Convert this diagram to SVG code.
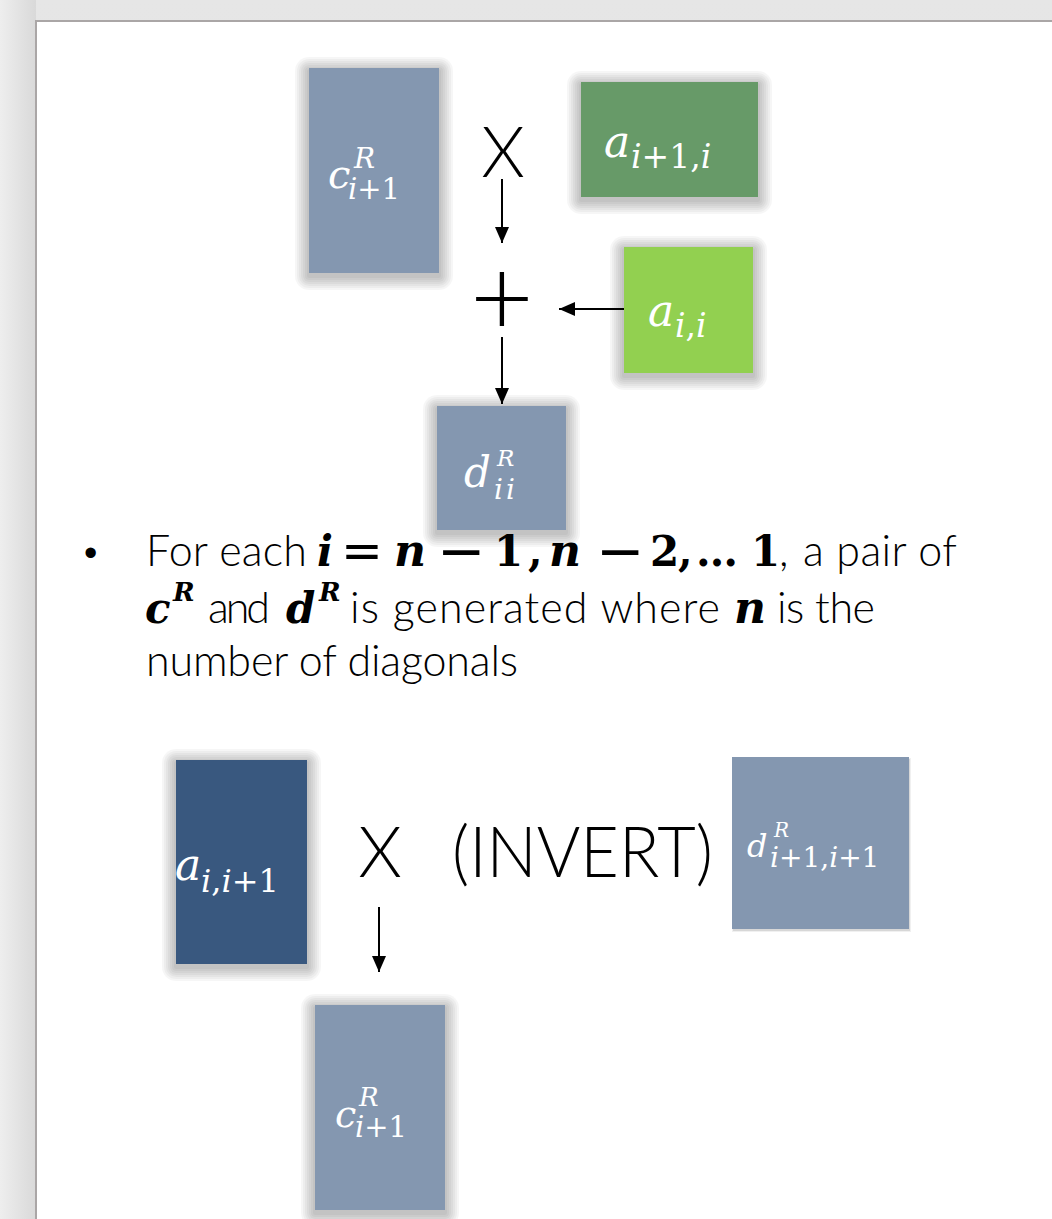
<svg xmlns="http://www.w3.org/2000/svg" width="1052" height="1219" viewBox="0 0 1052 1219">
<defs>
<linearGradient id="leftbg" x1="0" y1="0" x2="1" y2="0">
<stop offset="0" stop-color="#eeeeee"/>
<stop offset="1" stop-color="#d9d9d9"/>
</linearGradient>
<linearGradient id="topbg" x1="0" y1="0" x2="0" y2="1">
<stop offset="0" stop-color="#e6e6e6"/>
<stop offset="1" stop-color="#dadada"/>
</linearGradient>
<marker id="ah" markerUnits="userSpaceOnUse" markerWidth="16" markerHeight="14" refX="16" refY="7" orient="auto">
<path d="M0,0 L16,7 L0,14 z" fill="#000"/>
</marker>
</defs>
<style>
.slate{fill:#8497b0}
.shd rect{fill:#000;fill-opacity:0.035}
.m{font-family:"DejaVu Serif",serif;fill:#fff}
.it{font-style:italic}
.up{font-style:normal}
.op{font-family:Lato,"Liberation Sans",sans-serif;font-weight:300;fill:#000}
.body{font-family:Lato,"Liberation Sans",sans-serif;font-weight:300;font-size:43px;fill:#000}
.bm{font-family:"DejaVu Serif",serif;font-size:42px;fill:#000;font-weight:bold}
.bi{font-style:italic}
.sym{font-family:"DejaVu Sans",sans-serif;fill:#000}
.conn line{stroke:#000;stroke-width:2;marker-end:url(#ah)}
</style>

<!-- frame -->
<rect x="0" y="0" width="1052" height="1219" fill="url(#topbg)"/>
<rect x="0" y="0" width="36" height="1219" fill="url(#leftbg)"/>
<rect x="36" y="21" width="1030" height="1220" fill="#ffffff" stroke="#aaa6a6" stroke-width="2"/>

<!-- top section -->
<g id="c-top">
<g class="shd"><rect x="307" y="69" width="134" height="209" rx="2"/><rect x="305" y="67" width="138" height="213" rx="4"/><rect x="303" y="65" width="142" height="217" rx="6"/><rect x="301" y="63" width="146" height="221" rx="8"/><rect x="299" y="61" width="150" height="225" rx="10"/><rect x="297" y="59" width="154" height="229" rx="12"/><rect x="295" y="57" width="158" height="233" rx="14"/></g>
<rect class="slate" x="309" y="68" width="130" height="205"/>
<text class="m" font-size="40"><tspan class="it" x="328" y="188">c</tspan><tspan class="it" x="354" y="168" font-size="28">R</tspan><tspan class="it" x="348" y="199" font-size="29">i</tspan><tspan class="up" font-size="29">+1</tspan></text>
</g>

<g id="a-i1-i">
<g class="shd"><rect x="579" y="83" width="181" height="119" rx="2"/><rect x="577" y="81" width="185" height="123" rx="4"/><rect x="575" y="79" width="189" height="127" rx="6"/><rect x="573" y="77" width="193" height="131" rx="8"/><rect x="571" y="75" width="197" height="135" rx="10"/><rect x="569" y="73" width="201" height="139" rx="12"/><rect x="567" y="71" width="205" height="143" rx="14"/></g>
<rect x="581" y="82" width="177" height="115" fill="#679a68"/>
<text class="m" font-size="44"><tspan class="it" x="604" y="157">a</tspan><tspan class="it" x="631" y="168" font-size="33">i</tspan><tspan class="up" font-size="33">+1,</tspan><tspan class="it" font-size="33">i</tspan></text>
</g>

<g id="a-ii">
<g class="shd"><rect x="622" y="248" width="133" height="130" rx="2"/><rect x="620" y="246" width="137" height="134" rx="4"/><rect x="618" y="244" width="141" height="138" rx="6"/><rect x="616" y="242" width="145" height="142" rx="8"/><rect x="614" y="240" width="149" height="146" rx="10"/><rect x="612" y="238" width="153" height="150" rx="12"/><rect x="610" y="236" width="157" height="154" rx="14"/></g>
<rect x="624" y="247" width="129" height="126" fill="#92d050"/>
<text class="m" font-size="44"><tspan class="it" x="648" y="326">a</tspan><tspan class="it" x="675" y="337" font-size="33">i</tspan><tspan class="up" font-size="33">,</tspan><tspan class="it" font-size="33">i</tspan></text>
</g>

<g id="d-ii">
<g class="shd"><rect x="435" y="407" width="133" height="128" rx="2"/><rect x="433" y="405" width="137" height="132" rx="4"/><rect x="431" y="403" width="141" height="136" rx="6"/><rect x="429" y="401" width="145" height="140" rx="8"/><rect x="427" y="399" width="149" height="144" rx="10"/><rect x="425" y="397" width="153" height="148" rx="12"/><rect x="423" y="395" width="157" height="152" rx="14"/></g>
<rect class="slate" x="437" y="406" width="129" height="124"/>
<text class="m" font-size="42"><tspan class="it" x="464" y="487">d</tspan><tspan class="it" x="497" y="466" font-size="23">R</tspan><tspan class="it" x="494" y="499" font-size="28" letter-spacing="3">ii</tspan></text>
</g>

<g id="op-x-top"><text class="op" x="503" y="177" font-size="70" text-anchor="middle">X</text></g>
<g id="op-plus"><text class="op" x="502" y="336" font-size="110" text-anchor="middle">+</text></g>

<!-- bullet -->
<g id="bullet">
<text x="84" y="566" font-family="Liberation Sans, sans-serif" font-size="38" fill="#000">•</text>
<text class="body" x="146" y="566" textLength="161">For each</text>
<text class="bm"><tspan class="bi" x="317" y="566">i</tspan><tspan class="bi" x="394" font-size="44">n</tspan><tspan x="494">1</tspan><tspan x="528">,</tspan><tspan class="bi" x="549" font-size="44">n</tspan><tspan x="650">2</tspan><tspan x="678">,</tspan><tspan x="696">…</tspan><tspan x="751">1</tspan></text>
<text class="sym" font-size="50" x="341" y="568">=</text>
<text class="sym" font-size="58" x="437" y="571">−</text>
<text class="sym" font-size="58" x="596" y="571">−</text>
<text class="body" x="779" y="566">,</text>
<text class="body" x="803" y="566" textLength="154">a pair of</text>
<text class="bm"><tspan class="bi" x="145" y="623">c</tspan><tspan class="bi" x="173" y="601" font-size="26">R</tspan></text>
<text class="body" x="208" y="623" textLength="62">and</text>
<text class="bm"><tspan class="bi" x="286" y="623">d</tspan><tspan class="bi" x="319" y="601" font-size="26">R</tspan></text>
<text class="body" x="350" y="623" textLength="370">is generated where</text>
<text class="bm"><tspan class="bi" x="734" y="623" font-size="44">n</tspan></text>
<text class="body" x="777" y="623" textLength="98">is the</text>
<text class="body" x="146" y="676" textLength="372">number of diagonals</text>
</g>

<!-- bottom section -->
<g id="a-i-i1">
<g class="shd"><rect x="174" y="761" width="135" height="208" rx="2"/><rect x="172" y="759" width="139" height="212" rx="4"/><rect x="170" y="757" width="143" height="216" rx="6"/><rect x="168" y="755" width="147" height="220" rx="8"/><rect x="166" y="753" width="151" height="224" rx="10"/><rect x="164" y="751" width="155" height="228" rx="12"/><rect x="162" y="749" width="159" height="232" rx="14"/></g>
<rect x="176" y="760" width="131" height="204" fill="#39587f"/>
<text class="m" font-size="44"><tspan class="it" x="175" y="880">a</tspan><tspan class="it" x="201" y="892" font-size="32">i</tspan><tspan class="up" font-size="32">,</tspan><tspan class="it" font-size="32">i</tspan><tspan class="up" font-size="32">+1</tspan></text>
</g>

<g id="op-x-bottom"><text class="op" x="380" y="877" font-size="70" text-anchor="middle">X</text></g>
<g id="op-invert"><text class="op" x="452" y="877" font-size="70" textLength="261" lengthAdjust="spacingAndGlyphs">(INVERT)</text></g>

<g id="d-i1-i1">
<rect x="732" y="758" width="179" height="174" fill="#000" fill-opacity="0.06"/>
<rect x="733" y="759" width="177" height="172" fill="#000" fill-opacity="0.1"/>
<rect class="slate" x="732" y="757" width="177" height="172"/>
<text class="m" font-size="32"><tspan class="it" x="747" y="857">d</tspan><tspan class="it" x="774" y="837" font-size="20">R</tspan><tspan class="it" x="770" y="867" font-size="28">i</tspan><tspan class="up" font-size="28">+1,</tspan><tspan class="it" font-size="28">i</tspan><tspan class="up" font-size="28">+1</tspan></text>
</g>

<g id="c-bottom">
<g class="shd"><rect x="313" y="1006" width="134" height="209" rx="2"/><rect x="311" y="1004" width="138" height="213" rx="4"/><rect x="309" y="1002" width="142" height="217" rx="6"/><rect x="307" y="1000" width="146" height="221" rx="8"/><rect x="305" y="998" width="150" height="225" rx="10"/><rect x="303" y="996" width="154" height="229" rx="12"/><rect x="301" y="994" width="158" height="233" rx="14"/></g>
<rect class="slate" x="315" y="1005" width="130" height="205"/>
<text class="m" font-size="38"><tspan class="it" x="335" y="1127">c</tspan><tspan class="it" x="359" y="1106" font-size="26">R</tspan><tspan class="it" x="355" y="1137" font-size="29">i</tspan><tspan class="up" font-size="29">+1</tspan></text>
</g>

<!-- connectors -->
<g id="connectors" class="conn">
<line x1="502" y1="179" x2="502" y2="243"/>
<line x1="624" y1="309" x2="559" y2="309"/>
<line x1="502" y1="337" x2="502" y2="404"/>
<line x1="379" y1="907" x2="379" y2="972"/>
</g>
</svg>
